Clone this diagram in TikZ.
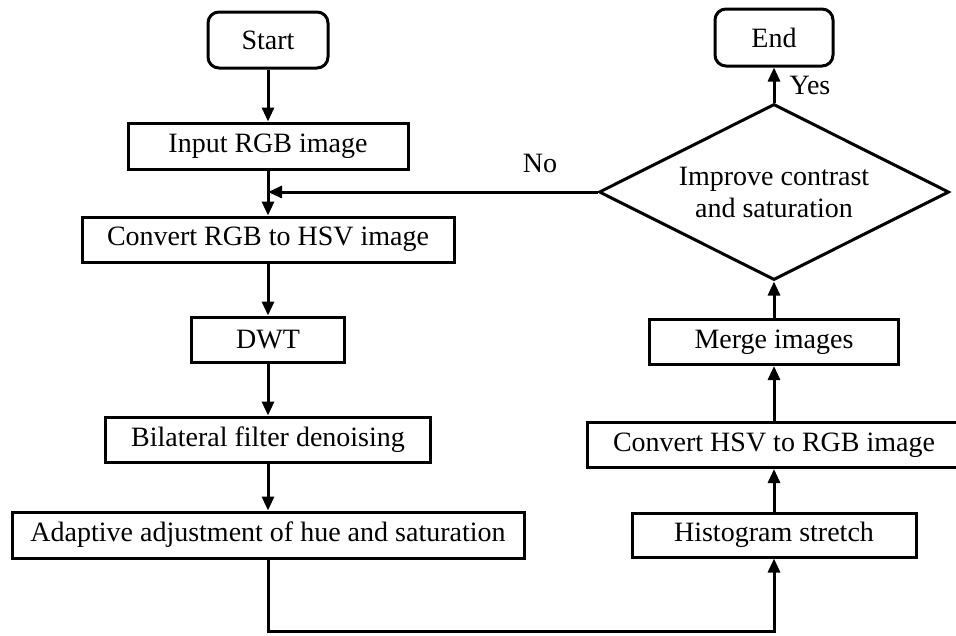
\documentclass[tikz,border=0pt]{standalone}
\usepackage{fontspec}
\setmainfont{Liberation Serif}
\usetikzlibrary{arrows.meta,shapes.geometric}

\tikzset{
  txt/.style={font=\fontsize{28}{32}\selectfont},
  stepbox/.style={txt, draw, line width=3pt, rectangle, inner sep=0pt, align=center},
  termbox/.style={stepbox, rounded corners=11pt},
  decbox/.style={txt, draw, line width=3pt, diamond, shape aspect=2, inner sep=0pt, align=center,
                 minimum width=350pt, minimum height=176pt},
  arr/.style={line width=3pt, -{Triangle[length=14pt,width=12pt]}},
}

\begin{document}
\begin{tikzpicture}[x=1pt,y=-1pt]
  \useasboundingbox (0,0) rectangle (956,635);

  % left column
  \node[termbox, minimum width=120pt, minimum height=56pt] (start) at (268,40) {Start};
  \node[stepbox, minimum width=280pt, minimum height=46pt] (input) at (268,146) {Input RGB image};
  \node[stepbox, minimum width=372pt, minimum height=45pt] (rgbhsv) at (268,239.5) {Convert RGB to HSV image};
  \node[stepbox, minimum width=153pt, minimum height=45pt] (dwt) at (268,339.5) {DWT};
  \node[stepbox, minimum width=325pt, minimum height=45pt] (bilat) at (268,439.5) {Bilateral filter denoising};
  \node[stepbox, minimum width=512pt, minimum height=46pt] (adapt) at (268,535) {Adaptive adjustment of hue and saturation};

  % right column
  \node[stepbox, minimum width=284pt, minimum height=44pt] (hist) at (774,535) {Histogram stretch};
  \node[stepbox, minimum width=374pt, minimum height=45pt] (hsvrgb) at (774,445) {Convert HSV to RGB image};
  \node[stepbox, minimum width=249pt, minimum height=45pt] (merge) at (774,342) {Merge images};
  \node[decbox] (dec) at (774,192) {Improve contrast\\and saturation};
  \node[termbox, minimum width=118pt, minimum height=57pt] (stop) at (774,37.5) {End};

  % labels
  \node[txt] (nolab) at (540,163) {No};
  \node[txt] (yeslab) at (810,85) {Yes};

  % connectors, left column
  \draw[arr] (start) -- (input);
  \draw[arr] (input) -- (rgbhsv);
  \draw[arr] (rgbhsv) -- (dwt);
  \draw[arr] (dwt) -- (bilat);
  \draw[arr] (bilat) -- (adapt);

  % bottom link to the right column
  \coordinate (bl) at (268,631);
  \coordinate (br) at (774,631);
  \draw[arr] (adapt.south) -- (bl) -- (br) -- (hist.south);

  % connectors, right column
  \draw[arr] (hist) -- (hsvrgb);
  \draw[arr] (hsvrgb) -- (merge);
  \draw[arr] (merge) -- (dec);
  \draw[arr] (dec) -- (stop);

  % feedback branch
  \draw[arr] (dec.west) -- (dec.west -| input.south);
\end{tikzpicture}
\end{document}
